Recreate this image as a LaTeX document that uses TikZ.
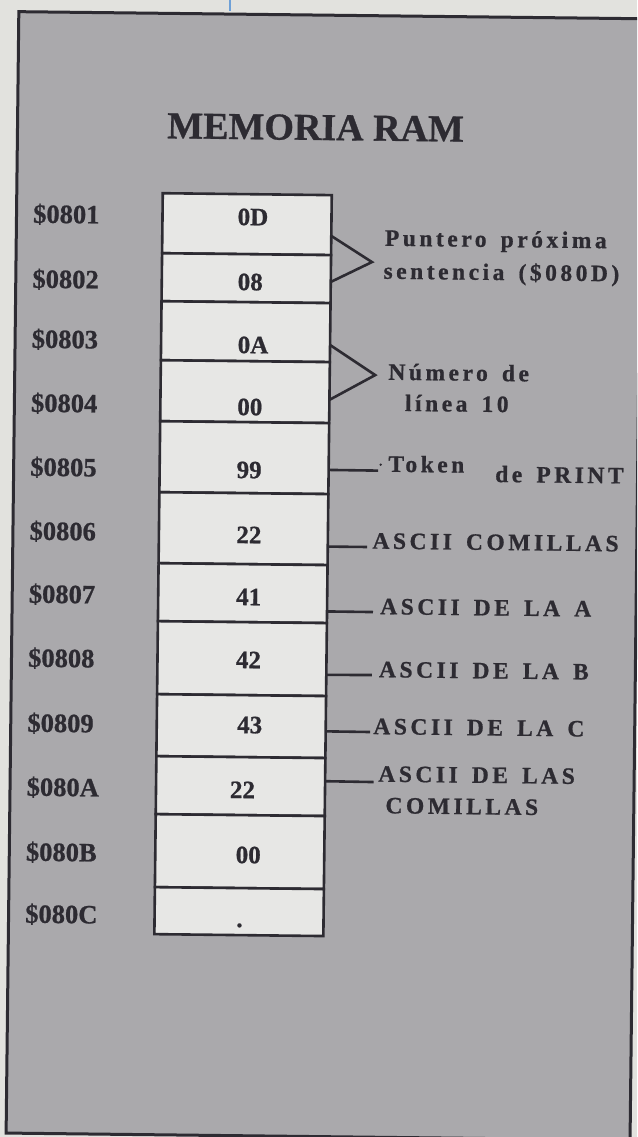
\documentclass[tikz,border=0pt]{standalone}
\usepackage{fontspec}
\setmainfont{Liberation Serif}[BoldFeatures={FakeBold=0.8}]
\newfontfamily\annfont{Liberation Serif}[LetterSpace=15, WordSpace=1.5, BoldFeatures={FakeBold=0.8}]
\usetikzlibrary{calc}
\definecolor{paper}{RGB}{226,226,222}
\definecolor{panel}{RGB}{170,169,172}
\definecolor{cellfill}{RGB}{231,231,229}
\definecolor{ink}{RGB}{45,43,50}
\definecolor{scanblue}{RGB}{110,160,215}
\begin{document}
\begin{tikzpicture}[x=1pt,y=-1pt,
  addr/.style={anchor=base west, inner sep=0pt, text=ink, font=\bfseries\fontsize{26.5}{30}\selectfont},
  val/.style={anchor=base, inner sep=0pt, text=ink, font=\bfseries\fontsize{25}{30}\selectfont},
  memcell/.style={draw=ink, line width=2.6pt, fill=cellfill, minimum width=169pt, anchor=north west, inner sep=0pt, outer sep=0pt},
  ann/.style={anchor=base west, inner sep=0pt, text=ink, font=\annfont\bfseries\fontsize{23.5}{30}\selectfont},
  link/.style={draw=ink, line width=2.6pt},
  ttl/.style={anchor=base, inner sep=0pt, text=ink, font=\bfseries\fontsize{38}{44}\selectfont}]
\useasboundingbox (0,0) rectangle (637,1137);
\fill[paper] (0,0) rectangle (637,1137);
\clip (0,0) rectangle (637,1137);
\draw[scanblue, line width=1.5pt] (230,0) -- (230,11);
\begin{scope}[rotate around={-0.65:(320,570)}, every node/.append style={transform shape}]
  \node[draw=ink, line width=3pt, fill=panel, minimum width=624pt, minimum height=1121.5pt, anchor=north west, inner sep=0pt] (frame) at (11,13.6) {};
  \node[ttl] (title) at (310.6,140) {MEMORIA RAM};
  % memory cells
  \node[memcell, minimum height=60pt] (c1) at (158.5,195) {};
  \node[memcell, minimum height=48pt] (c2) at (158.5,255) {};
  \node[memcell, minimum height=59pt] (c3) at (158.5,303) {};
  \node[memcell, minimum height=61pt] (c4) at (158.5,362) {};
  \node[memcell, minimum height=71pt] (c5) at (158.5,423) {};
  \node[memcell, minimum height=71pt] (c6) at (158.5,494) {};
  \node[memcell, minimum height=58pt] (c7) at (158.5,565) {};
  \node[memcell, minimum height=73pt] (c8) at (158.5,623) {};
  \node[memcell, minimum height=62pt] (c9) at (158.5,696) {};
  \node[memcell, minimum height=58pt] (c10) at (158.5,758) {};
  \node[memcell, minimum height=73pt] (c11) at (158.5,816) {};
  \node[memcell, minimum height=47pt] (c12) at (158.5,889) {};
  % values
  \node[val] (v1) at (249,226) {0D};
  \node[val] (v2) at (247,291) {08};
  \node[val] (v3) at (250.5,354) {0A};
  \node[val] (v4) at (248,416) {00};
  \node[val] (v5) at (248,479) {99};
  \node[val] (v6) at (248.5,544) {22};
  \node[val] (v7) at (249,606) {41};
  \node[val] (v8) at (249.5,669) {42};
  \node[val] (v9) at (251.5,734) {43};
  \node[val] (v10) at (245,799) {22};
  \node[val] (v11) at (251.5,864) {00};
  \node[val] (v12) at (243.5,928) {.};
  % addresses
  \node[addr] (a1) at (29,226) {\$0801};
  \node[addr] (a2) at (29,291) {\$0802};
  \node[addr] (a3) at (29,351) {\$0803};
  \node[addr] (a4) at (29,415) {\$0804};
  \node[addr] (a5) at (29,479) {\$0805};
  \node[addr] (a6) at (29,543) {\$0806};
  \node[addr] (a7) at (29,606) {\$0807};
  \node[addr] (a8) at (29,670) {\$0808};
  \node[addr] (a9) at (29,735) {\$0809};
  \node[addr] (a10) at (29,799) {\$080A};
  \node[addr] (a11) at (29,864) {\$080B};
  \node[addr] (a12) at (29,926) {\$080C};
  % annotations
  \node[ann] (t1a) at (381,245) {Puntero próxima};
  \node[ann] (t1b) at (380,278) {sentencia (\$080D)};
  \node[ann] (t2a) at (386,379) {Número de};
  \node[ann] (t2b) at (403,410) {línea 10};
  \node[ann] (t3a) at (387,471) {Token};
  \node[ann] (t3b) at (494,480) {de PRINT};
  \node[ann] (t4) at (372,548) {ASCII COMILLAS};
  \node[ann] (t5) at (380.5,613.5) {ASCII DE LA A};
  \node[ann] (t6) at (380,676.5) {ASCII DE LA B};
  \node[ann] (t7) at (375,733.5) {ASCII DE LA C};
  \node[ann] (t8a) at (380.5,781) {ASCII DE LAS};
  \node[ann] (t8b) at (388,812.5) {COMILLAS};
  % connector tips
  \coordinate (p1) at (368.5,261.5);
  \coordinate (p2) at (373,374.5);
  \coordinate (e5) at (377,470);
  \coordinate (e6) at (367,546.5);
  \coordinate (e7) at (373.5,611.5);
  \coordinate (e8) at (373,674.5);
  \coordinate (e9) at (372,731.5);
  \coordinate (e10) at (376,781.5);
  % connectors
  \draw[link] ($(c1.north east)!0.68!(c1.south east)$) -- (p1) -- ($(c2.north east)!0.56!(c2.south east)$);
  \draw[link] ($(c3.north east)!0.71!(c3.south east)$) -- (p2) -- ($(c4.north east)!0.62!(c4.south east)$);
  \draw[link] ($(c5.north east)!0.66!(c5.south east)$) -- (e5);
  \fill[ink] (379.5,464) circle (1.3);
  \draw[link] ($(c6.north east)!0.74!(c6.south east)$) -- (e6);
  \draw[link] ($(c7.north east)!0.80!(c7.south east)$) -- (e7);
  \draw[link] ($(c8.north east)!0.71!(c8.south east)$) -- (e8);
  \draw[link] ($(c9.north east)!0.57!(c9.south east)$) -- (e9);
  \draw[link] ($(c10.north east)!0.40!(c10.south east)$) -- (e10);
\end{scope}
\end{tikzpicture}
\end{document}
